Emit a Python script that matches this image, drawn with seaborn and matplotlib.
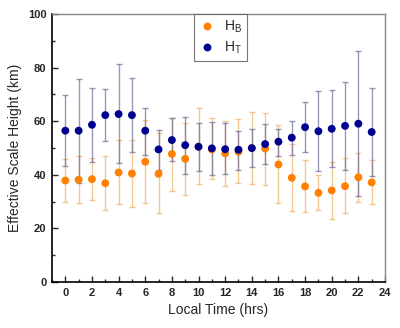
import numpy as np
import pandas as pd
import matplotlib
matplotlib.use("Agg")
import matplotlib.pyplot as plt
import seaborn as sns
from matplotlib.ticker import MultipleLocator

hours = list(range(24))
hb = [37.9, 38.2, 38.4, 36.9, 40.9, 40.5, 44.9, 40.4, 47.8, 46.0, 50.5, 49.5,
      48.0, 48.6, 50.0, 49.8, 43.9, 38.9, 35.7, 33.3, 34.2, 35.8, 39.1, 37.2]
hb_hi = [45.9, 47.1, 46.2, 47.1, 53.0, 53.2, 60.4, 55.5, 61.4, 59.4, 64.8, 61.4,
         60.2, 60.7, 63.6, 63.2, 58.8, 51.5, 45.5, 39.9, 44.9, 46.2, 48.3, 45.5]
hb_lo = [30.0, 29.4, 30.6, 26.9, 29.1, 28.0, 29.6, 25.9, 34.0, 32.5, 36.6, 38.3,
         35.8, 36.8, 36.6, 36.2, 29.4, 26.5, 26.0, 26.9, 23.4, 25.6, 30.0, 29.0]
ht = [56.5, 56.5, 58.7, 62.3, 62.7, 62.3, 56.5, 49.5, 53.0, 51.1, 50.5, 49.9,
      49.6, 49.4, 50.0, 51.5, 52.4, 53.9, 57.8, 56.3, 57.2, 58.3, 59.1, 56.0]
ht_hi = [69.7, 75.7, 72.3, 71.9, 81.3, 76.0, 65.0, 56.7, 61.4, 61.7, 59.4, 59.8,
         59.2, 56.5, 57.2, 59.0, 57.3, 60.2, 67.3, 71.3, 71.6, 74.7, 86.2, 72.5]
ht_lo = [43.3, 36.8, 44.9, 52.6, 44.3, 48.4, 47.6, 42.0, 45.3, 40.3, 41.3, 39.9,
         40.3, 42.0, 42.8, 44.0, 47.0, 47.3, 48.6, 41.5, 42.8, 42.0, 32.2, 39.5]

df = pd.DataFrame({"hour": hours * 2,
                   "value": hb + ht,
                   "lo": hb_lo + ht_lo,
                   "hi": hb_hi + ht_hi,
                   "series": ["$\\mathregular{H_B}$"] * 24 + ["$\\mathregular{H_T}$"] * 24})

sns.set_style("ticks")
plt.rcParams['font.family'] = ['Liberation Sans', 'DejaVu Sans']

fig = plt.figure(figsize=(4.0, 3.28), dpi=100)
ax = fig.add_axes([0.13, 0.14, 0.8325, 0.817])

colors = {"$\\mathregular{H_B}$": "#ff8000", "$\\mathregular{H_T}$": "#000090"}
ecolors = {"$\\mathregular{H_B}$": (0.93, 0.70, 0.40, 0.7), "$\\mathregular{H_T}$": (0.38, 0.38, 0.58, 0.65)}

for name, sub in df.groupby("series", sort=False):
    yerr = np.vstack([sub["value"] - sub["lo"], sub["hi"] - sub["value"]])
    ax.errorbar(sub["hour"], sub["value"], yerr=yerr, fmt="none",
                ecolor=ecolors[name], elinewidth=1.0, capsize=2.5, capthick=1.0, zorder=2)

sns.scatterplot(data=df, x="hour", y="value", hue="series", palette=colors,
                s=32, edgecolor="none", ax=ax, zorder=3, legend=True)

ax.set_xlim(-1, 24)
ax.set_ylim(0, 100)
ax.xaxis.set_major_locator(MultipleLocator(2))
ax.xaxis.set_minor_locator(MultipleLocator(1))
ax.yaxis.set_major_locator(MultipleLocator(20))
ax.yaxis.set_minor_locator(MultipleLocator(10))
ax.tick_params(which="both", direction="in", top=False, right=False)
ax.tick_params(which="major", length=4, width=1, labelsize=8, pad=4)
ax.tick_params(which="minor", length=2, width=1)
for lab in ax.get_xticklabels() + ax.get_yticklabels():
    lab.set_fontweight("bold")

ax.set_xlabel("Local Time (hrs)", fontsize=10)
ax.set_ylabel("Effective Scale Height (km)", fontsize=10)

for s in ["left", "bottom"]:
    ax.spines[s].set_color("black")
    ax.spines[s].set_linewidth(1.2)
for s in ["top", "right"]:
    ax.spines[s].set_color("#888888")
    ax.spines[s].set_linewidth(1.0)

leg = ax.legend(loc="upper left", bbox_to_anchor=(0.426, 1.0), borderaxespad=0,
                frameon=True, fancybox=False, edgecolor="#555555", fontsize=10,
                title=None, handletextpad=0.6, borderpad=0.35, labelspacing=0.3,
                handlelength=1.2)
leg.get_frame().set_linewidth(0.8)

fig.savefig("out.png", dpi=100)
